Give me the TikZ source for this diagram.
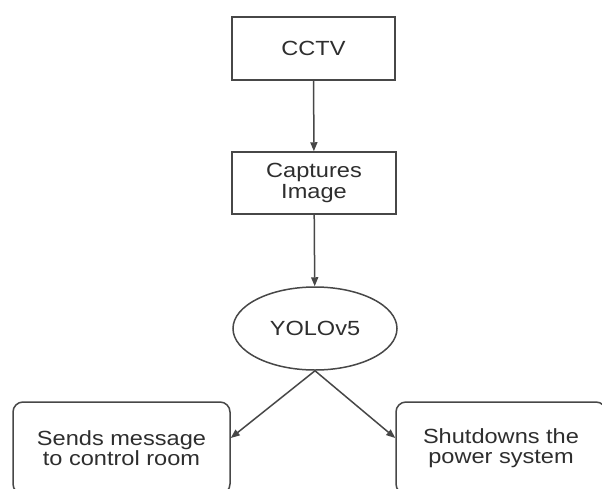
\documentclass[tikz,border=0pt]{standalone}
\usepackage{fontspec}
\setmainfont{Liberation Sans}[FakeStretch=1.15]
\usetikzlibrary{shapes.geometric,arrows.meta,calc}
\newcommand{\linecolor}{black!72!white}
\newcommand{\labelcolor}{black!82!white}
\newcommand{\boxwid}{164}
\newcommand{\boxhei}{62}

\begin{document}
\begin{tikzpicture}[x=1pt, y=-1pt, >={Triangle[length=9pt,width=7pt]},
    every node/.style={text=\labelcolor, font=\fontsize{20.5}{20.5}\selectfont, align=center},
    stepbox/.style={draw=\linecolor, line width=1.5pt, minimum width=\boxwid, minimum height=\boxhei, inner sep=0pt},
    endbox/.style={stepbox, rounded corners=10pt, minimum height=92},
    flow/.style={draw=\linecolor, line width=1.5pt, ->}]
        \path[fill=white, use as bounding box] (0, 0) rectangle (602, 488);
        \begin{scope}
        \clip (0, 0) rectangle (602, 488);
        
        % boxes
        \node[stepbox, minimum width=163, minimum height=63] (cctv) at (313.5, 48.5) {CCTV};
        \node[stepbox] (capture) at (314, 183) {Captures\\Image};
        \node[stepbox, ellipse, minimum height=83] (yolo) at (315, 328.5) {YOLOv5};
        \node[endbox, minimum width=217] (message) at (121.5, 448) {Sends message\\to control room};
        \node[endbox, minimum width=210] (shutdown) at (501, 448) {Shutdowns the\\power system};
        
        % arrows
        \draw[flow] (cctv) -- (capture);
        \draw[flow] (capture) -- (yolo);
        \draw[flow] (yolo.south) -- ($(message.east)+(0, -10)$);
        \draw[flow] (yolo.south) -- ($(shutdown.west)+(0, -10)$);
        \end{scope}
    \end{tikzpicture}
\end{document}
